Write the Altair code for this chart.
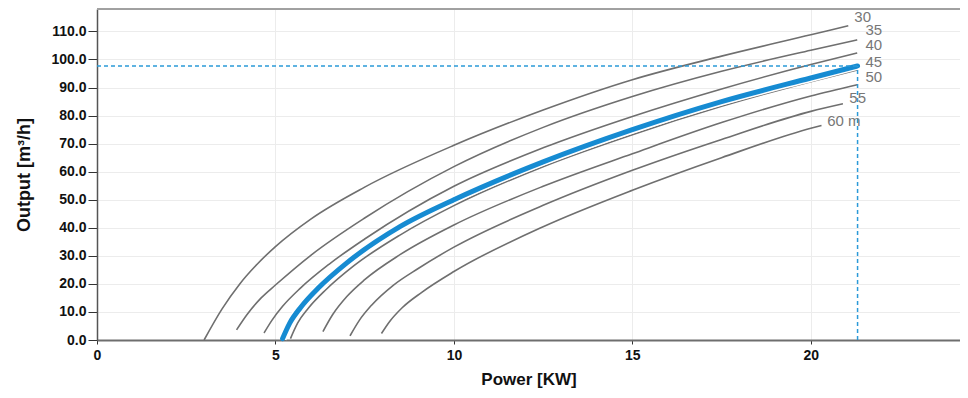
import altair as alt
import pandas as pd

# ---- data ----
curve_labels = ["30", "35", "40", "45", "50", "55", "60 m"]
label_power = [21.22, 21.53, 21.53, 21.53, 21.53, 21.08, 20.46]
label_output = [115.0, 110.6, 105.0, 99.0, 93.6, 86.2, 78.2]

p30 = [3.0, 3.5, 4.0, 4.5, 5.0, 6.0, 7.5, 10, 12.5, 15, 17.5, 20, 21.05]
q30 = [0, 11, 20, 27.2, 33.3, 43.2, 54.5, 69.4, 82, 92.8, 101.2, 108.8, 112.0]

p35 = [3.91, 4.2, 4.6, 5, 6, 7.5, 10, 12.5, 15, 17.5, 20, 21.3]
q35 = [3.6, 9, 15, 19.6, 30.3, 43.5, 61.8, 75.8, 86.8, 95.8, 103.3, 107]

p40 = [4.68, 4.9, 5.2, 5.7, 6.5, 7.5, 10, 12.5, 15, 17.5, 20, 21.3]
q40 = [2.5, 7, 12, 18.5, 27, 36, 54.8, 68.5, 79.7, 89.5, 98.2, 102.3]

p45 = [5.42, 5.62, 5.92, 6.42, 7.2, 8.5, 10, 12.5, 15, 17.5, 20, 21.3]
q45 = [0.5, 6, 11.3, 18, 26.5, 37.5, 47.9, 61.8, 73.2, 83.3, 92.1, 96.3]

p50 = [6.33, 6.6, 7, 7.5, 8.5, 10, 12.5, 15, 17.5, 20, 21.3]
q50 = [3, 9, 15.5, 21.5, 30.5, 41, 54.8, 66.4, 77.5, 87, 91]

p55 = [7.09, 7.35, 7.7, 8.3, 9, 10, 12.5, 15, 17.5, 20, 20.9]
q55 = [1.5, 7, 12.5, 19.5, 25.5, 33.1, 48, 60.5, 71.5, 81.5, 84.2]

p60 = [7.97, 8.2, 8.55, 9.1, 10, 12.5, 15, 17.5, 20, 20.3]
q60 = [2.3, 6.6, 11.5, 17, 24.4, 40.4, 53.4, 65, 75.5, 76.5]

blue_power = [5.2, 5.4, 5.7, 6.2, 7, 8.5, 10, 12.5, 15, 17.5, 20, 21.31]
blue_output = [0.5, 6, 11.5, 18.5, 27.5, 40.5, 50, 63.5, 75, 85, 93.4, 97.7]

op_power = 21.31
op_output = 97.7

x_ticks = [0, 5, 10, 15, 20]
y_ticks = [0, 10, 20, 30, 40, 50, 60, 70, 80, 90, 100, 110]

gray_power = [p30, p35, p40, p45, p50, p55, p60]
gray_output = [q30, q35, q40, q45, q50, q55, q60]

rows = []
for lab, ps, qs in zip(curve_labels, gray_power, gray_output):
    for p, q in zip(ps, qs):
        rows.append({"curve": lab, "power": p, "output": q})
gray_df = pd.DataFrame(rows)
label_df = pd.DataFrame({"curve": curve_labels, "power": label_power, "output": label_output})
blue_df = pd.DataFrame({"power": blue_power, "output": blue_output})
hrule_df = pd.DataFrame({"power": [0], "power2": [op_power], "output": [op_output]})
vrule_df = pd.DataFrame({"power": [op_power], "output": [0], "output2": [op_output]})

FONT = "Liberation Sans"
W, H = 863, 331

x_scale = alt.Scale(domain=[0, 24.18], nice=False, zero=False)
y_scale = alt.Scale(domain=[0, 118], nice=False)

x_axis = alt.Axis(values=x_ticks, title="Power [KW]", format="d",
                  tickSize=4, labelPadding=4, titlePadding=9,
                  titleFontSize=17, labelFlush=False,
                  domainWidth=2, domainColor="#6e6e6e", tickColor="#333",
                  gridColor="#ececec")
y_axis = alt.Axis(values=y_ticks, title="Output [m³/h]", format=".1f",
                  tickSize=9, labelPadding=2, titlePadding=17,
                  titleFontSize=18, labelFlush=False,
                  domainWidth=1.5, domainColor="#555", tickColor="#333",
                  gridColor="#ececec")

X = alt.X("power:Q", scale=x_scale, axis=x_axis)
Y = alt.Y("output:Q", scale=y_scale, axis=y_axis)

top_border = alt.Chart(blue_df).mark_rule(color="#a0a0a0", strokeWidth=1).encode(
    x=alt.value(0), x2=alt.value(W), y=alt.value(0)
)

gray_lines = alt.Chart(gray_df).mark_line(
    color="#6f6f6f", strokeWidth=1.6, interpolate="monotone"
).encode(x=X, y=Y, detail="curve:N")

blue_halo = alt.Chart(blue_df).mark_line(
    color="white", strokeWidth=8, interpolate="monotone"
).encode(x=X, y=Y)

blue_line = alt.Chart(blue_df).mark_line(
    color="#168bd2", strokeWidth=5, interpolate="monotone", strokeCap="round"
).encode(x=X, y=Y)

hrule = alt.Chart(hrule_df).mark_rule(
    color="#2b9ad8", strokeWidth=1.5, strokeDash=[4, 3]
).encode(x=X, x2="power2:Q", y=Y)

vrule = alt.Chart(vrule_df).mark_rule(
    color="#2b9ad8", strokeWidth=1.5, strokeDash=[4, 3]
).encode(x=X, y=Y, y2="output2:Q")

labels = alt.Chart(label_df).mark_text(
    align="left", baseline="middle",
    font=FONT, fontSize=15, color="#777777"
).encode(x=X, y=Y, text="curve:N")

chart = alt.layer(
    top_border, gray_lines, blue_halo, blue_line, hrule, vrule, labels
).properties(
    width=W, height=H,
    autosize=alt.AutoSizeParams(type="none"),
    padding={"left": 89, "top": 1, "right": 0, "bottom": 50},
).configure_view(stroke=None).configure_axis(
    labelFont=FONT, labelFontSize=14, labelFontWeight="bold", labelColor="#111",
    titleFont=FONT, titleFontWeight="bold", titleColor="#111",
)

chart.save("out.html", embed_options={"renderer": "svg", "actions": False})
